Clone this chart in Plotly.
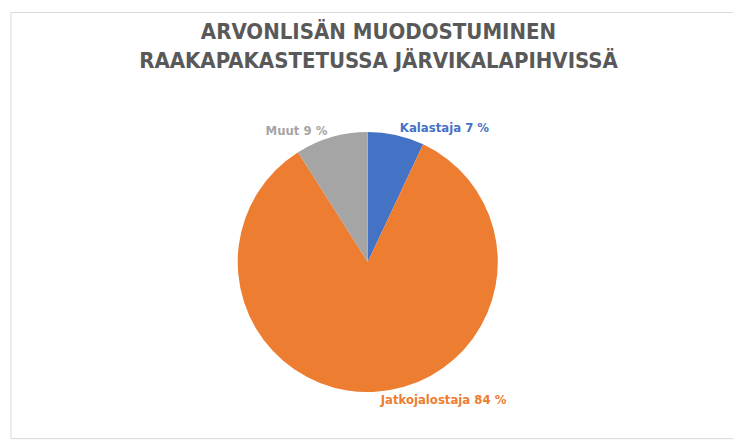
import plotly.graph_objects as go

labels = ["Kalastaja", "Jatkojalostaja", "Muut"]
values = [7, 84, 9]
colors = ["#4472C4", "#ED7D31", "#A5A5A5"]

fig = go.Figure()
fig.add_trace(go.Pie(
    labels=labels, values=values, sort=False, direction="clockwise", rotation=0,
    marker=dict(colors=colors),
    textposition="outside", texttemplate="<b>%{label} %{value} %</b>",
    outsidetextfont=dict(color=colors, size=13,
                         family="Liberation Sans Narrow, DejaVu Sans Condensed, Arial"),
    domain=dict(x=[0.310, 0.661], y=[0.135, 0.721]),
    showlegend=False, hoverinfo="label+percent",
))

fig.update_layout(
    width=741, height=444,
    margin=dict(l=0, r=0, t=0, b=0),
    paper_bgcolor="white",
    title=dict(text="<b>ARVONLISÄN MUODOSTUMINEN<br>RAAKAPAKASTETUSSA JÄRVIKALAPIHVISSÄ</b>",
               x=0.5, y=0.93, xanchor="center", yanchor="top",
               font=dict(size=22, color="#595959",
                         family="Liberation Sans Narrow, DejaVu Sans Condensed, Arial")),
    shapes=[dict(type="rect", xref="paper", yref="paper", x0=0.004, x1=0.985, y0=0.03, y1=0.99,
                 line=dict(color="#D9D9D9", width=1))],
)

fig.write_html("out.html")
